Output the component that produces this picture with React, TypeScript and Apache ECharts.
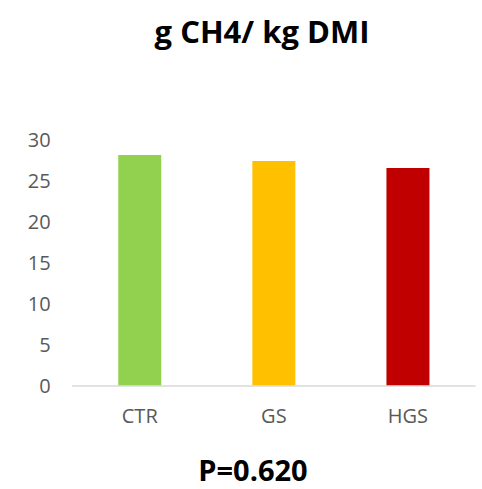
import React, { useEffect, useRef } from "react";
import * as echarts from "echarts";

const categories = ["CTR", "GS", "HGS"];
const values = [28.1, 27.35, 26.5];
const barColors = ["#92D050", "#FFC000", "#C00000"];
const chartTitle = "g CH4/ kg DMI";
const footnote = "P=0.620";

export default function App() {
  const ref = useRef<HTMLDivElement>(null);
  useEffect(() => {
    if (!ref.current) return;
    const chart = echarts.init(ref.current, undefined, { renderer: "svg" });
    chart.setOption({
      animation: false,
      backgroundColor: "#ffffff",
      textStyle: { fontFamily: "Open Sans" },
      graphic: [
        {
          type: "text",
          x: 262,
          y: 31,
          style: {
            text: chartTitle,
            fontFamily: "Open Sans",
            fontWeight: "bold",
            fontSize: 31,
            lineHeight: 32,
            fill: "#000000",
            align: "center",
            verticalAlign: "middle",
          },
        },
        {
          type: "text",
          x: 253,
          y: 469,
          style: {
            text: footnote,
            fontFamily: "Open Sans",
            fontWeight: "bold",
            fontSize: 29,
            lineHeight: 29,
            fill: "#000000",
            align: "center",
            verticalAlign: "middle",
          },
        },
      ],
      grid: { left: 72.7, right: 7, top: 139.3, bottom: 103.7, containLabel: false },
      xAxis: {
        type: "category",
        data: categories,
        axisLine: { show: true, lineStyle: { color: "#D9D9D9", width: 1.5 } },
        axisTick: { show: false },
        axisLabel: { color: "#595959", fontSize: 20, margin: 20, fontFamily: "Open Sans" },
      },
      yAxis: {
        type: "value",
        min: 0,
        max: 30,
        interval: 5,
        axisLine: { show: false },
        axisTick: { show: false },
        splitLine: { show: false },
        axisLabel: { color: "#595959", fontSize: 20, margin: 22, fontFamily: "Open Sans" },
      },
      series: [
        {
          type: "bar",
          barWidth: 43,
          data: values.map((v, i) => ({ value: v, itemStyle: { color: barColors[i] } })),
        },
      ],
    });
    return () => chart.dispose();
  }, []);
  return (
    <div
      ref={ref}
      style={{ position: "fixed", left: 0, top: 0, width: 482, height: 489 }}
    />
  );
}
